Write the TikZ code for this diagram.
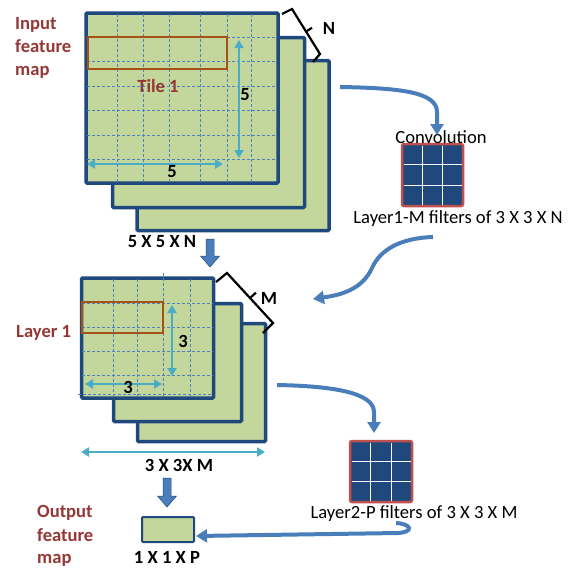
\documentclass[tikz,border=0pt]{standalone}
\usepackage{fontspec}
\setmainfont{Carlito}
\usetikzlibrary{arrows.meta}
\definecolor{sheetfill}{HTML}{C3D69B}
\definecolor{sheetline}{HTML}{1F497D}
\definecolor{gridline}{HTML}{4F81BD}
\definecolor{measure}{HTML}{4BACC6}
\definecolor{tileline}{HTML}{A65214}
\definecolor{labelred}{HTML}{953735}
\definecolor{flow}{HTML}{4A7EBB}
\definecolor{filterfill}{HTML}{1F497D}
\definecolor{filterline}{HTML}{C0504D}
\begin{document}
\begin{tikzpicture}[x=1pt,y=-1pt,
 sheet/.style={draw=sheetline, fill=sheetfill, line width=3.5pt, rounded corners=1pt, inner sep=0pt, outer sep=0pt},
 gridl/.style={draw=gridline, line width=0.8pt, dash pattern=on 3pt off 2pt},
 tile/.style={draw=tileline, line width=1.6pt},
 meas/.style={draw=measure, line width=2.8pt, {Triangle[length=8pt,width=9pt]}-{Triangle[length=8pt,width=9pt]}},
 flowarrow/.style={draw=flow, line width=4pt, -{Triangle[length=11pt,width=13pt]}},
 boldlbl/.style={font=\fontsize{18.6}{22}\selectfont\bfseries, inner sep=0pt, anchor=base},
 redlbl/.style={font=\fontsize{18.6}{22}\selectfont\bfseries, text=labelred, inner sep=0pt, anchor=base west},
 plainlbl/.style={font=\fontsize{18.6}{22}\selectfont, inner sep=0pt, anchor=base},
 filter/.style={draw=filterline, fill=filterfill, line width=2.5pt, rounded corners=2pt, inner sep=0pt, outer sep=0pt},
 filtergrid/.style={draw=white, line width=1pt},
 blockarrow/.style={fill=flow, draw=sheetline, line width=0.5pt},
 brace/.style={draw=black, line width=2.2pt, line join=miter},
]
\useasboundingbox (0,0) rectangle (577,568);

% ---------- input feature map stack ----------
\node[sheet, minimum width=192pt, minimum height=170pt] (in3) at (233,145.5) {};
\node[sheet, minimum width=192pt, minimum height=170pt] (in2) at (208.5,122.5) {};
\node[sheet, minimum width=192pt, minimum height=170pt] (in1) at (182,98) {};
\foreach \x in {117,143,169,200,227,251} \draw[gridl] (\x,14) -- (\x,182);
\foreach \y in {37,61,86,110,135,159} \draw[gridl] (87,\y) -- (277,\y);
\draw[tile] (88,37) rectangle (227,69);
\node[redlbl, anchor=base] (tile1) at (158,92) {Tile 1};
\coordinate (v5a) at (239,40); \coordinate (v5b) at (239,158);
\draw[meas] (v5a) -- (v5b);
\node[boldlbl] (v5) at (245,100) {5};
\coordinate (h5a) at (87,164); \coordinate (h5b) at (223,164);
\draw[meas] (h5a) -- (h5b);
\node[boldlbl] (h5) at (172,177) {5};
\draw[brace] (282,14) -- (292,9) -- (320,54) -- (313,62);
\draw[brace] (306,31.5) -- (312,27.8);
\node[boldlbl] (nlbl) at (329,34) {N};
\node[redlbl] (in1a) at (15,29) {Input};
\node[redlbl] (in1b) at (15,52) {feature};
\node[redlbl] (in1c) at (15,75) {map};
\node[boldlbl] (dim1) at (162,247) {5 X 5 X N};

% down block arrow 1
\draw[blockarrow] (206,239) -- (214,239) -- (214,256) -- (219.5,256) -- (210,267) -- (200.5,256) -- (206,256) -- cycle;

% ---------- layer 1 stack ----------
\node[sheet, minimum width=128pt, minimum height=118pt] (l3) at (201.5,382.5) {};
\node[sheet, minimum width=128pt, minimum height=118pt] (l2) at (177.5,362.5) {};
\node[sheet, minimum width=132pt, minimum height=120pt] (l1) at (147.5,338) {};
\foreach \x in {113,137,190} \draw[gridl] (\x,279) -- (\x,397);
\draw[gridl] (163,273) -- (163,397);
\foreach \y in {303,327,351,375} \draw[gridl] (82,\y) -- (213,\y);
\draw[gridl] (78,394) -- (213,394);
\draw[tile] (82,302) rectangle (163,333);
\coordinate (v3a) at (172,305); \coordinate (v3b) at (172,376);
\draw[meas] (v3a) -- (v3b);
\node[boldlbl] (v3) at (183,347) {3};
\coordinate (h3a) at (85,384); \coordinate (h3b) at (162,384);
\draw[meas] (h3a) -- (h3b);
\node[boldlbl] (h3) at (128,393) {3};
\draw[brace] (216,282) -- (227,273) -- (273,323) -- (263,333);
\draw[brace] (250,298) -- (256,292.6);
\node[boldlbl] (mlbl) at (269,304) {M};
\node[redlbl] (lay1) at (16,337) {Layer 1};
\coordinate (spa) at (81,452); \coordinate (spb) at (265,452);
\draw[meas] (spa) -- (spb);
\node[boldlbl] (dim2) at (179,471) {3 X 3X M};

% down block arrow 2
\draw[blockarrow] (163,478) -- (171,478) -- (171,496) -- (176.5,496) -- (167,507) -- (157.5,496) -- (163,496) -- cycle;

% ---------- output ----------
\node[sheet, line width=2pt, minimum width=52pt, minimum height=25pt] (out) at (168,529.5) {};
\node[boldlbl] (dim3) at (167,563) {1 X 1 X P};
\node[redlbl] (outa) at (37,517) {Output};
\node[redlbl] (outb) at (37,541) {feature};
\node[redlbl] (outc) at (37,563) {map};

% ---------- filters ----------
\node[filter, minimum width=61pt, minimum height=62pt] (f1) at (432.5,175) {};
\draw[filtergrid] (422.8,145.5) -- (422.8,204.5);
\draw[filtergrid] (442.2,145.5) -- (442.2,204.5);
\draw[filtergrid] (403.5,164.7) -- (461.5,164.7);
\draw[filtergrid] (403.5,185.3) -- (461.5,185.3);
\node[plainlbl] (conv) at (441,143) {Convolution};
\node[plainlbl] (f1lbl) at (458,223) {Layer1-M filters of 3 X 3 X N};

\node[filter, minimum width=62pt, minimum height=61pt] (f2) at (381,471.5) {};
\draw[filtergrid] (370.7,442.5) -- (370.7,500.5);
\draw[filtergrid] (391.3,442.5) -- (391.3,500.5);
\draw[filtergrid] (351.5,461.5) -- (410.5,461.5);
\draw[filtergrid] (351.5,481.5) -- (410.5,481.5);
\node[plainlbl] (f2lbl) at (414,518) {Layer2-P filters of 3 X 3 X M};

% ---------- flow arrows ----------
\coordinate (a1s) at (340,87);
\coordinate (a1e) at (437,135);
\draw[flowarrow] (a1s) .. controls (400,88) and (437,92) .. (437,112) -- (a1e);
\coordinate (a2s) at (433,237);
\coordinate (a2e) at (313,299);
\draw[flowarrow] (a2s) .. controls (400,238) and (380,250) .. (372,268) .. controls (362,290) and (340,295) .. (a2e);
\coordinate (a3s) at (277,385);
\coordinate (a3e) at (374,433);
\draw[flowarrow] (a3s) .. controls (330,386) and (374,392) .. (374,412) -- (a3e);
\coordinate (a4s) at (396,523);
\coordinate (a4e) at (196,536);
\draw[flowarrow] (a4s) .. controls (412,524) and (414,532) .. (398,533) -- (a4e);
\end{tikzpicture}
\end{document}
